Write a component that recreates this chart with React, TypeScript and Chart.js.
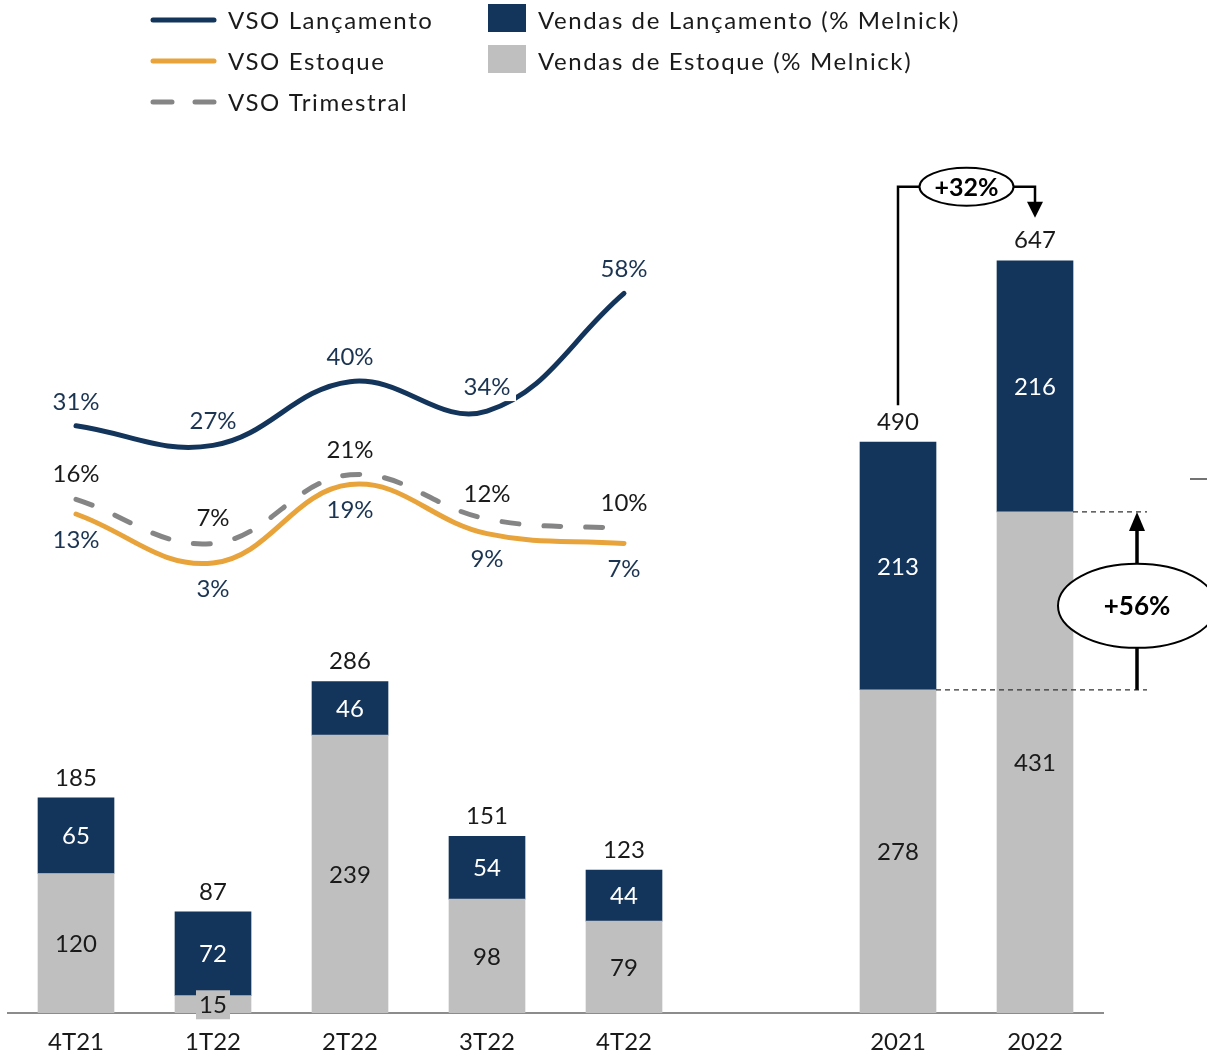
import React, { useEffect, useRef } from 'react';
import { Chart, registerables } from 'chart.js';

Chart.register(...registerables);

const categories = ['4T21', '1T22', '2T22', '3T22', '4T22', '', '2021', '2022'];
const lancamentoSales = [65, 72, 46, 54, 44, null, 213, 216];
const estoqueSales = [120, 15, 239, 98, 79, null, 278, 431];
const totals = [185, 87, 286, 151, 123, null, 490, 647];
const vsoLancamento = [31, 27, 40, 34, 58, null, null, null];
const vsoEstoque = [13, 3, 19, 9, 7, null, null, null];
const vsoTrimestral = [16, 7, 21, 12, 10, null, null, null];
const growthTotal = '+32%';
const growthEstoque = '+56%';

const NAVY = '#13345B';
const GRAY = '#BFBFBF';
const ORANGE = '#E8A33A';
const DASH = '#858585';
const TEXT = '#1a1a1a';
const LABEL_NAVY = '#1B3452';
const FONT = 'Lato, sans-serif';

const labelsPlugin = {
  id: 'customLabels',
  afterDatasetsDraw(chart: any) {
    const ctx = chart.ctx as CanvasRenderingContext2D;
    const xs = chart.scales.x;
    const ys = chart.scales.y;
    const y2 = chart.scales.y2;
    ctx.save();
    ctx.font = `24px ${FONT}`;
    ctx.textAlign = 'center';
    ctx.textBaseline = 'middle';
    for (let i = 0; i < categories.length; i++) {
      const e = estoqueSales[i];
      const l = lancamentoSales[i];
      if (e == null || l == null) continue;
      const cx = xs.getPixelForValue(i);
      const y0 = ys.getPixelForValue(0);
      const ye = ys.getPixelForValue(e);
      const yl = ys.getPixelForValue(e + l);
      const ym = (y0 + ye) / 2;
      if (y0 - ye < 30) {
        ctx.fillStyle = GRAY;
        ctx.fillRect(cx - 17, ym - 14, 34, 29);
      }
      ctx.fillStyle = TEXT;
      ctx.fillText(String(e), cx, ym + 1);
      ctx.fillStyle = '#ffffff';
      ctx.fillText(String(l), cx, (ye + yl) / 2 + 1);
      ctx.fillStyle = TEXT;
      ctx.fillText(String(totals[i]), cx, yl - 20);
    }
    const lineLabel = (vals: (number | null)[], off: number, color: string, bgIdx: number) => {
      vals.forEach((v, i) => {
        if (v == null) return;
        const cx = xs.getPixelForValue(i);
        const cy = y2.getPixelForValue(v) + off;
        if (i === bgIdx) {
          ctx.fillStyle = '#ffffff';
          ctx.fillRect(cx - 28, cy - 14, 57, 28);
        }
        ctx.fillStyle = color;
        ctx.fillText(`${v}%`, cx, cy);
      });
    };
    lineLabel(vsoLancamento, -24, LABEL_NAVY, 3);
    lineLabel(vsoTrimestral, -25, TEXT, -1);
    lineLabel(vsoEstoque, 26, LABEL_NAVY, -1);
    ctx.restore();
  },
  afterDraw(chart: any) {
    const ctx = chart.ctx as CanvasRenderingContext2D;
    const xs = chart.scales.x;
    const ys = chart.scales.y;
    ctx.save();
    // Legend
    ctx.lineCap = 'round';
    ctx.lineWidth = 5;
    const legendLines = [
      { label: 'VSO Lançamento', color: NAVY, dash: [] as number[], y: 20 },
      { label: 'VSO Estoque', color: ORANGE, dash: [] as number[], y: 61 },
      { label: 'VSO Trimestral', color: DASH, dash: [19, 23], y: 102 },
    ];
    ctx.font = `24px ${FONT}`;
    ctx.textBaseline = 'middle';
    ctx.textAlign = 'left';
    (ctx as any).letterSpacing = '1.6px';
    legendLines.forEach((it) => {
      ctx.strokeStyle = it.color;
      ctx.setLineDash(it.dash);
      ctx.beginPath();
      ctx.moveTo(153, it.y);
      ctx.lineTo(214, it.y);
      ctx.stroke();
      ctx.setLineDash([]);
      ctx.fillStyle = TEXT;
      ctx.fillText(it.label, 228, it.y + 1);
    });
    const legendBoxes = [
      { label: 'Vendas de Lançamento (% Melnick)', color: NAVY, y: 4 },
      { label: 'Vendas de Estoque (% Melnick)', color: GRAY, y: 45 },
    ];
    legendBoxes.forEach((it) => {
      ctx.fillStyle = it.color;
      ctx.fillRect(488, it.y, 38, 28);
      ctx.fillStyle = TEXT;
      ctx.fillText(it.label, 538, it.y + 17);
    });
    (ctx as any).letterSpacing = '0px';

    // +32% annotation
    const x6 = xs.getPixelForValue(6);
    const x7 = xs.getPixelForValue(7);
    const yT6 = ys.getPixelForValue(totals[6] as number);
    const yT7 = ys.getPixelForValue(totals[7] as number);
    const yTop = yT7 - 74;
    const ex = (x6 + x7) / 2;
    ctx.strokeStyle = '#000';
    ctx.fillStyle = '#000';
    ctx.lineWidth = 2.5;
    ctx.lineCap = 'butt';
    ctx.beginPath();
    ctx.moveTo(x6, yT6 - 38);
    ctx.lineTo(x6, yTop);
    ctx.lineTo(ex - 47, yTop);
    ctx.moveTo(ex + 47, yTop);
    ctx.lineTo(x7, yTop);
    ctx.lineTo(x7, yTop + 16);
    ctx.stroke();
    ctx.beginPath();
    ctx.moveTo(x7 - 8, yTop + 15);
    ctx.lineTo(x7 + 8, yTop + 15);
    ctx.lineTo(x7, yTop + 31);
    ctx.closePath();
    ctx.fill();
    ctx.beginPath();
    ctx.ellipse(ex, yTop, 47, 19, 0, 0, Math.PI * 2);
    ctx.fillStyle = '#fff';
    ctx.fill();
    ctx.lineWidth = 2;
    ctx.stroke();
    ctx.fillStyle = '#000';
    ctx.font = `bold 25px ${FONT}`;
    ctx.textAlign = 'center';
    ctx.fillText(growthTotal, ex, yTop + 1);

    // +56% annotation
    const yA = ys.getPixelForValue(estoqueSales[7] as number);
    const yB = ys.getPixelForValue(estoqueSales[6] as number);
    const ax = 1137;
    ctx.strokeStyle = '#333';
    ctx.lineWidth = 1.2;
    ctx.setLineDash([5, 4]);
    ctx.beginPath();
    ctx.moveTo(x7 + 38, yA);
    ctx.lineTo(1147, yA);
    ctx.moveTo(x6 + 38, yB);
    ctx.lineTo(1147, yB);
    ctx.stroke();
    ctx.setLineDash([]);
    const ecy = (yA + yB) / 2 + 5;
    ctx.strokeStyle = '#000';
    ctx.lineWidth = 3.5;
    ctx.beginPath();
    ctx.moveTo(ax, yB);
    ctx.lineTo(ax, ecy + 40);
    ctx.moveTo(ax, ecy - 40);
    ctx.lineTo(ax, yA + 16);
    ctx.stroke();
    ctx.fillStyle = '#000';
    ctx.beginPath();
    ctx.moveTo(ax - 8, yA + 19);
    ctx.lineTo(ax + 8, yA + 19);
    ctx.lineTo(ax, yA);
    ctx.closePath();
    ctx.fill();
    ctx.beginPath();
    ctx.ellipse(ax, ecy, 79, 42, 0, 0, Math.PI * 2);
    ctx.fillStyle = '#fff';
    ctx.fill();
    ctx.lineWidth = 2;
    ctx.stroke();
    ctx.fillStyle = '#000';
    ctx.font = `bold 26px ${FONT}`;
    ctx.fillText(growthEstoque, ax, ecy + 1);

    // small mark at right edge
    ctx.strokeStyle = '#444';
    ctx.lineWidth = 1.5;
    ctx.beginPath();
    ctx.moveTo(1190, 479);
    ctx.lineTo(1207, 479);
    ctx.stroke();
    ctx.restore();
  },
};

export default function App() {
  const ref = useRef<HTMLCanvasElement | null>(null);
  useEffect(() => {
    if (!ref.current) return;
    const lineBase = {
      type: 'line' as const,
      yAxisID: 'y2',
      tension: 0.4,
      pointRadius: 0,
      borderWidth: 5,
      borderCapStyle: 'round' as const,
      fill: false,
      spanGaps: false,
      order: 0,
    };
    const chart = new Chart(ref.current, {
      type: 'bar',
      data: {
        labels: categories,
        datasets: [
          { ...lineBase, label: 'VSO Lançamento', data: vsoLancamento, borderColor: NAVY },
          { ...lineBase, label: 'VSO Trimestral', data: vsoTrimestral, borderColor: DASH, borderDash: [17, 25] },
          { ...lineBase, label: 'VSO Estoque', data: vsoEstoque, borderColor: ORANGE },
          {
            type: 'bar',
            label: 'Vendas de Estoque (% Melnick)',
            data: estoqueSales,
            backgroundColor: GRAY,
            barThickness: 76,
            yAxisID: 'y',
            order: 1,
          },
          {
            type: 'bar',
            label: 'Vendas de Lançamento (% Melnick)',
            data: lancamentoSales,
            backgroundColor: NAVY,
            barThickness: 76,
            yAxisID: 'y',
            order: 1,
          },
        ] as any,
      },
      options: {
        responsive: false,
        animation: false,
        layout: { padding: { left: 7.5, right: 103.5, top: 141, bottom: 0 } },
        plugins: { legend: { display: false }, tooltip: { enabled: false } },
        scales: {
          x: {
            stacked: true,
            grid: { display: false, drawTicks: false },
            border: { display: true, color: '#8C8C8C', width: 2 },
            ticks: { font: { family: FONT, size: 24 }, color: TEXT, padding: 15, autoSkip: false, maxRotation: 0 },
            afterFit: (s: any) => {
              s.height = 44;
            },
          },
          y: { stacked: true, display: false, min: 0, max: 750 },
          y2: { display: false, min: -88.8, max: 89.1 },
        },
      } as any,
      plugins: [labelsPlugin],
    });
    return () => chart.destroy();
  }, []);
  return (
    <div style={{ position: 'absolute', left: 0, top: 0, width: 1207, height: 1057, background: '#fff' }}>
      <canvas ref={ref} width={1207} height={1057} style={{ display: 'block' }} />
    </div>
  );
}
